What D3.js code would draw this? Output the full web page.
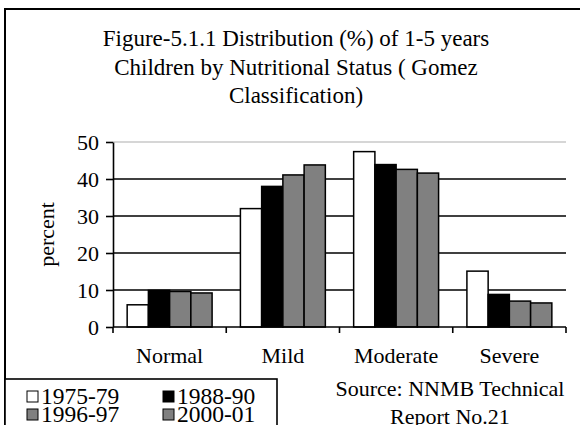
<!DOCTYPE html>
<html>
<head>
<meta charset="utf-8">
<script src="https://cdn.jsdelivr.net/npm/d3@7/dist/d3.min.js"></script>
<style>
  html, body { margin: 0; padding: 0; background: #fff; }
  svg { display: block; }
  text { font-family: "Liberation Serif", "Times New Roman", serif; fill: #000; }
</style>
</head>
<body>
<svg id="chart" width="580" height="425"></svg>
<script>
// Nutritional status categories (Gomez classification)
const categories = ["Normal", "Mild", "Moderate", "Severe"];
// Survey periods
const periods = ["1975-79", "1988-90", "1996-97", "2000-01"];
// Percent of children in each category, one array per survey period
const values1975 = [6.0, 32.0, 47.4, 15.1];
const values1988 = [9.9, 38.0, 43.9, 8.8];
const values1996 = [9.6, 41.1, 42.6, 7.0];
const values2000 = [9.2, 43.8, 41.6, 6.5];
const yTicks = [0, 10, 20, 30, 40, 50];
const titleLines = [
  "Figure-5.1.1 Distribution (%) of 1-5 years",
  "Children by Nutritional Status ( Gomez",
  "Classification)"
];
const sourceLines = ["Source: NNMB Technical", "Report No.21"];

const seriesValues = [values1975, values1988, values1996, values2000];
const fills = ["#ffffff", "#000000", "#808080", "#808080"];

const svg = d3.select("#chart");
const W = 580, H = 425;
const plot = { left: 113, right: 566, top: 142, bottom: 327 };

// outer frame
svg.append("rect")
  .attr("x", 5).attr("y", 9)
  .attr("width", W + 10).attr("height", H + 10)
  .attr("fill", "none").attr("stroke", "#000").attr("stroke-width", 2);

// title
svg.append("g").selectAll("text").data(titleLines).join("text")
  .attr("x", 296)
  .attr("y", (d, i) => 46 + i * 28.5)
  .attr("text-anchor", "middle")
  .attr("font-size", 23)
  .text(d => d);

const y = d3.scaleLinear().domain([0, 50]).range([plot.bottom, plot.top]);
const xCat = d3.scaleBand().domain(categories).range([plot.left, plot.right]).padding(0);
const x0 = d3.scaleBand().domain(categories).range([plot.left, plot.right])
  .paddingInner(0.25).paddingOuter(0.125);
const x1 = d3.scaleBand().domain(periods).range([0, x0.bandwidth()]);

// gridlines
svg.append("g").selectAll("line").data(yTicks.filter(t => t > 0)).join("line")
  .attr("x1", plot.left).attr("x2", plot.right)
  .attr("y1", d => y(d)).attr("y2", d => y(d))
  .attr("stroke", d => d === 50 ? "#c8c8c8" : "#000")
  .attr("stroke-width", 1.6);

// bars
const rows = categories.map((c, ci) => ({
  cat: c,
  vals: periods.map((p, pi) => ({ period: p, v: seriesValues[pi][ci], fill: fills[pi] }))
}));
svg.append("g").selectAll("g").data(rows).join("g")
  .attr("transform", d => `translate(${x0(d.cat)},0)`)
  .selectAll("rect").data(d => d.vals).join("rect")
  .attr("x", d => x1(d.period))
  .attr("width", x1.bandwidth())
  .attr("y", d => y(d.v))
  .attr("height", d => y(0) - y(d.v))
  .attr("fill", d => d.fill)
  .attr("stroke", "#000").attr("stroke-width", 1.5);

// y axis
const yAxis = svg.append("g")
  .attr("transform", `translate(${plot.left},0)`)
  .call(d3.axisLeft(y).tickValues(yTicks).tickSize(7).tickPadding(7).tickSizeOuter(0));
yAxis.select(".domain").attr("stroke-width", 1.6);
yAxis.selectAll(".tick line").attr("stroke-width", 1.6);
yAxis.selectAll(".tick text")
  .attr("font-size", 22).attr("fill", "#000");

// x axis with ticks at category boundaries
svg.append("line")
  .attr("x1", plot.left).attr("x2", plot.right)
  .attr("y1", y(0)).attr("y2", y(0))
  .attr("stroke", "#000").attr("stroke-width", 1.6);
const bounds = categories.map(c => xCat(c)).concat([plot.right]);
svg.append("g").selectAll("line").data(bounds).join("line")
  .attr("x1", d => d).attr("x2", d => d)
  .attr("y1", y(0)).attr("y2", y(0) + 6)
  .attr("stroke", "#000").attr("stroke-width", 1.6);
svg.append("g").selectAll("text").data(categories).join("text")
  .attr("x", d => xCat(d) + xCat.bandwidth() / 2)
  .attr("y", 363)
  .attr("text-anchor", "middle")
  .attr("font-size", 22)
  .text(d => d);

// y axis title
svg.append("text")
  .attr("transform", `translate(54,${(plot.top + plot.bottom) / 2}) rotate(-90)`)
  .attr("text-anchor", "middle")
  .attr("font-size", 22)
  .text("percent");

// legend
svg.append("rect")
  .attr("x", 5).attr("y", 379)
  .attr("width", 272).attr("height", 60)
  .attr("fill", "#fff").attr("stroke", "#000").attr("stroke-width", 1.6);
const legendPos = [[27, 404], [163, 404], [27, 422], [163, 422]];
const lg = svg.append("g").selectAll("g").data(periods).join("g")
  .attr("transform", (d, i) => `translate(${legendPos[i][0]},${legendPos[i][1]})`);
lg.append("rect")
  .attr("x", 0).attr("y", -13).attr("width", 11).attr("height", 11)
  .attr("fill", (d, i) => fills[i]).attr("stroke", "#000").attr("stroke-width", 1);
lg.append("text")
  .attr("x", 14).attr("y", 0)
  .attr("font-size", 23.5)
  .text(d => d);

// source note
svg.append("g").selectAll("text").data(sourceLines).join("text")
  .attr("x", 450)
  .attr("y", (d, i) => 396 + i * 28)
  .attr("text-anchor", "middle")
  .attr("font-size", 22)
  .text(d => d);
</script>
</body>
</html>
